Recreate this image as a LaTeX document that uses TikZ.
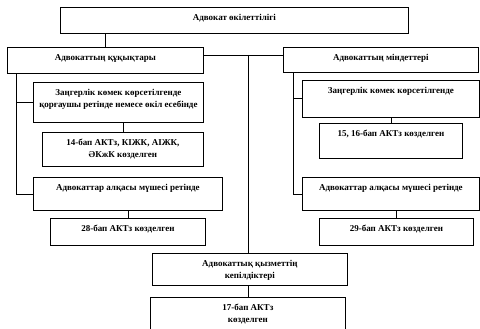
\documentclass[tikz,border=0pt]{standalone}
\usepackage{fontspec}
\setmainfont{Liberation Serif}
\tikzset{
  box/.style={draw, rectangle, anchor=north west, inner sep=0pt, line width=0.8pt},
  boxtext/.style={anchor=north, yshift=-7pt, align=center, inner sep=0pt,
    font=\fontsize{9}{12}\selectfont\bfseries},
}
\begin{document}
\begin{tikzpicture}[x=1pt, y=-1pt, line width=0.8pt]
      \useasboundingbox (0,0) rectangle (480,329);

      % Жоғарғы блок
      \node[box, minimum width=348pt, minimum height=26pt,
        label={[boxtext]north:Адвокат өкілеттілігі}] (top) at (60,7) {};

      % Құқықтар мен міндеттер
      \node[box, minimum width=196pt, minimum height=26pt,
        label={[boxtext]north:Адвокаттың құқықтары}] (rights) at (7,47) {};
      \node[box, minimum width=195pt, minimum height=25pt,
        label={[boxtext]north:Адвокаттың міндеттері}] (duties) at (283,47) {};

      % Сол жақ тармақ
      \node[box, minimum width=170pt, minimum height=40pt,
        label={[boxtext]north:{Заңгерлік көмек көрсетілгенде\\қорғаушы ретінде немесе өкіл есебінде}}] (lhelp) at (33,82) {};
      \node[box, minimum width=161pt, minimum height=34pt,
        label={[boxtext]north:{14-бап АКТз, КІЖК, АІЖК,\\ӘКжК көзделген}}] (lfourteen) at (42,132) {};
      \node[box, minimum width=189pt, minimum height=33pt,
        label={[boxtext]north:Адвокаттар алқасы мүшесі ретінде}] (lmember) at (33,177) {};
      \node[box, minimum width=155pt, minimum height=27pt,
        label={[boxtext]north:28-бап АКТз көзделген}] (ltwentyeight) at (50,218) {};

      % Оң жақ тармақ
      \node[box, minimum width=177pt, minimum height=37pt,
        label={[boxtext]north:Заңгерлік көмек көрсетілгенде}] (rhelp) at (302,80) {};
      \node[box, minimum width=143pt, minimum height=35pt,
        label={[boxtext]north:{15, 16-бап АКТз көзделген}}] (rfifteen) at (319,123) {};
      \node[box, minimum width=177pt, minimum height=33pt,
        label={[boxtext]north:Адвокаттар алқасы мүшесі ретінде}] (rmember) at (302,177) {};
      \node[box, minimum width=154pt, minimum height=27pt,
        label={[boxtext]north:29-бап АКТз көзделген}] (rtwentynine) at (319,218) {};

      % Кепілдіктер
      \node[box, minimum width=195pt, minimum height=32pt,
        label={[boxtext]north:{Адвокаттық қызметтің\\кепілдіктері}}] (guar) at (152,253) {};
      \node[box, minimum width=195pt, minimum height=36pt,
        label={[boxtext]north:{17-бап АКТз\\көзделген}}] (lseventeen) at (150,297) {};

      % Байланыстар
      \coordinate (topdrop) at (105,0);
      \coordinate (bar) at (0,55);
      \coordinate (mid) at (248,0);
      \coordinate (lspine) at (16,0);
      \coordinate (rspine) at (293,0);

      \draw (top.south -| topdrop) -- (rights.north -| topdrop);
      \draw (rights.east |- bar) -- (duties.west |- bar);
      \draw (mid |- bar) -- (guar.north -| mid);
      \draw (lspine |- rights.south) -- (lspine |- lmember.west) -- (lmember.west);
      \draw (lspine |- lhelp.west) -- (lhelp.west);
      \draw (lhelp.south -| lfourteen.north) -- (lfourteen.north);
      \draw (lmember.south) -- (lmember.south |- ltwentyeight.north);
      \draw (rspine |- duties.south) -- (rspine |- rmember.west) -- (rmember.west);
      \draw (rspine |- rhelp.west) -- (rhelp.west);
      \draw (rhelp.south -| rfifteen.north) -- (rfifteen.north);
      \draw (rmember.south -| rtwentynine.north) -- (rtwentynine.north);
      \draw (guar.south -| lseventeen.north) -- (lseventeen.north);
    \end{tikzpicture}
\end{document}
